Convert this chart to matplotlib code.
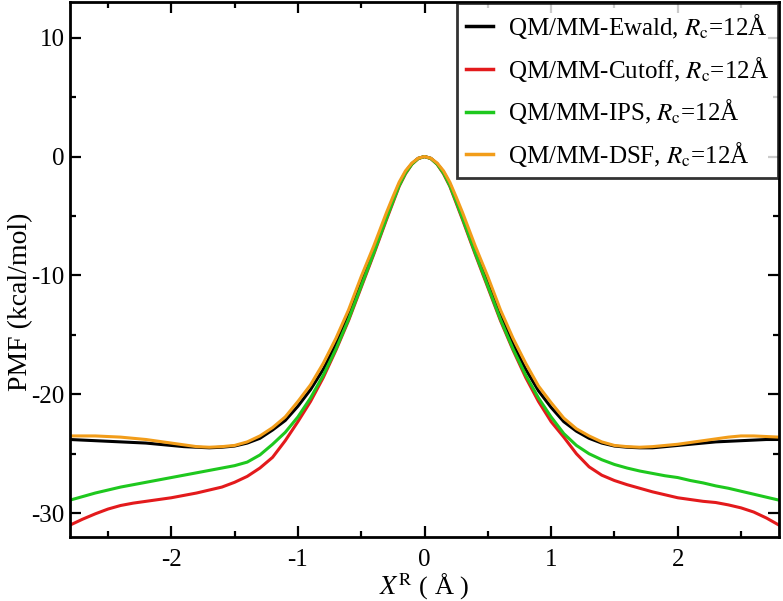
import matplotlib.pyplot as plt
from matplotlib.ticker import MultipleLocator

plt.rcParams['font.family'] = ['Liberation Serif', 'DejaVu Serif']
plt.rcParams['mathtext.fontset'] = 'stix'
plt.rcParams['axes.unicode_minus'] = False

# reaction coordinate (Angstrom)
x_r = [-2.8, -2.7, -2.6, -2.5, -2.4, -2.3, -2.2, -2.1, -2.0, -1.9, -1.8, -1.7, -1.6, -1.5, -1.4,
       -1.3, -1.2, -1.1, -1.0, -0.9, -0.8, -0.7, -0.6, -0.5, -0.4, -0.3,
       -0.25, -0.2, -0.15, -0.1, -0.05, 0.0, 0.05, 0.1, 0.15, 0.2, 0.25,
       0.3, 0.4, 0.5, 0.6, 0.7, 0.8, 0.9, 1.0, 1.1, 1.2, 1.3,
       1.4, 1.5, 1.6, 1.7, 1.8, 1.9, 2.0, 2.1, 2.2, 2.3, 2.4, 2.5, 2.6, 2.7, 2.8]

pmf_ewald = [-23.8, -23.85, -23.9, -23.95, -24.0, -24.05, -24.1, -24.2, -24.3, -24.4, -24.45, -24.5, -24.45, -24.35, -24.1,
             -23.7, -23.0, -22.2, -21.0, -19.6, -17.9, -15.8, -13.3, -10.5, -7.9, -5.0,
             -3.6, -2.3, -1.3, -0.6, -0.15, 0.0, -0.15, -0.6, -1.3, -2.3, -3.6,
             -5.0, -7.9, -10.5, -13.3, -15.8, -17.9, -19.7, -21.1, -22.3, -23.1, -23.7,
             -24.1, -24.35, -24.45, -24.5, -24.5, -24.4, -24.3, -24.2, -24.1, -24.0, -23.95, -23.9, -23.85, -23.8, -23.8]

pmf_cutoff = [-31.0, -30.5, -30.05, -29.65, -29.35, -29.15, -29.0, -28.85, -28.7, -28.5, -28.3, -28.05, -27.8, -27.4, -26.9,
              -26.2, -25.3, -23.9, -22.3, -20.6, -18.6, -16.3, -13.8, -11.0, -8.2, -5.3,
              -3.9, -2.5, -1.45, -0.65, -0.17, 0.0, -0.17, -0.65, -1.45, -2.5, -3.9,
              -5.3, -8.2, -11.0, -13.8, -16.3, -18.6, -20.6, -22.3, -23.6, -25.0, -26.1,
              -26.8, -27.25, -27.6, -27.9, -28.2, -28.45, -28.7, -28.85, -29.0, -29.1, -29.3, -29.55, -29.9, -30.4, -31.0]

pmf_ips = [-28.9, -28.6, -28.3, -28.05, -27.8, -27.6, -27.4, -27.2, -27.0, -26.8, -26.6, -26.4, -26.2, -26.0, -25.7,
           -25.1, -24.2, -23.2, -21.9, -20.3, -18.4, -16.2, -13.7, -10.9, -8.1, -5.2,
           -3.8, -2.45, -1.4, -0.65, -0.17, 0.0, -0.17, -0.65, -1.4, -2.45, -3.8,
           -5.2, -8.1, -10.9, -13.7, -16.2, -18.4, -20.3, -21.9, -23.3, -24.3, -25.0,
           -25.5, -25.9, -26.2, -26.45, -26.65, -26.85, -27.0, -27.25, -27.45, -27.7, -27.9, -28.15, -28.4, -28.65, -28.9]

pmf_dsf = [-23.5, -23.5, -23.5, -23.55, -23.6, -23.7, -23.8, -23.95, -24.1, -24.25, -24.4, -24.45, -24.4, -24.3, -24.0,
           -23.5, -22.8, -21.9, -20.6, -19.2, -17.4, -15.3, -12.9, -10.1, -7.5, -4.7,
           -3.4, -2.15, -1.2, -0.55, -0.14, 0.0, -0.14, -0.55, -1.2, -2.15, -3.4,
           -4.7, -7.5, -10.1, -12.9, -15.3, -17.4, -19.3, -20.7, -22.0, -22.9, -23.5,
           -24.0, -24.3, -24.4, -24.45, -24.4, -24.3, -24.2, -24.05, -23.9, -23.75, -23.6, -23.5, -23.5, -23.55, -23.6]

labels = [r'QM/MM-Ewald, $R_{\rm c}$=12Å',
          r'QM/MM-Cutoff, $R_{\rm c}$=12Å',
          r'QM/MM-IPS, $R_{\rm c}$=12Å',
          r'QM/MM-DSF, $R_{\rm c}$=12Å']
colors = ['#000000', '#e31a1c', '#1ec81e', '#f29d1a']

fig = plt.figure(figsize=(7.83, 6.01), dpi=100)
ax = fig.add_axes([0.0894, 0.1065, 0.9055, 0.8902])

for series, lab, col in zip([pmf_ewald, pmf_cutoff, pmf_ips, pmf_dsf], labels, colors):
    ax.plot(x_r, series, color=col, lw=2.2, label=lab)

ax.set_xlim(-2.8, 2.8)
ax.set_ylim(-32, 13)
ax.xaxis.set_major_locator(MultipleLocator(1))
ax.xaxis.set_minor_locator(MultipleLocator(0.5))
ax.yaxis.set_major_locator(MultipleLocator(10))
ax.yaxis.set_minor_locator(MultipleLocator(5))
ax.tick_params(which='both', direction='in', top=True, right=True, width=1.6, labelsize=18)
ax.tick_params(which='major', length=8)
ax.tick_params(which='minor', length=4.5)
ax.tick_params(axis='x', pad=9)
ax.tick_params(axis='y', pad=4)
for sp in ax.spines.values():
    sp.set_linewidth(2)

ax.set_xlabel(r'$X^{\rm R}$ ( Å )', fontsize=19, labelpad=0)
ax.set_ylabel('PMF (kcal/mol)', fontsize=20)
ax.yaxis.set_label_coords(-0.052, 0.44)

leg = ax.legend(loc='upper right', fontsize=18, frameon=True, fancybox=False,
                borderaxespad=0.05, handlelength=1.1, handletextpad=0.6,
                labelspacing=0.55, borderpad=0.35)
leg.get_frame().set_edgecolor('black')
leg.get_frame().set_linewidth(2)
for line in leg.get_lines():
    line.set_linewidth(2.5)

fig.savefig('out.png', dpi=100)
